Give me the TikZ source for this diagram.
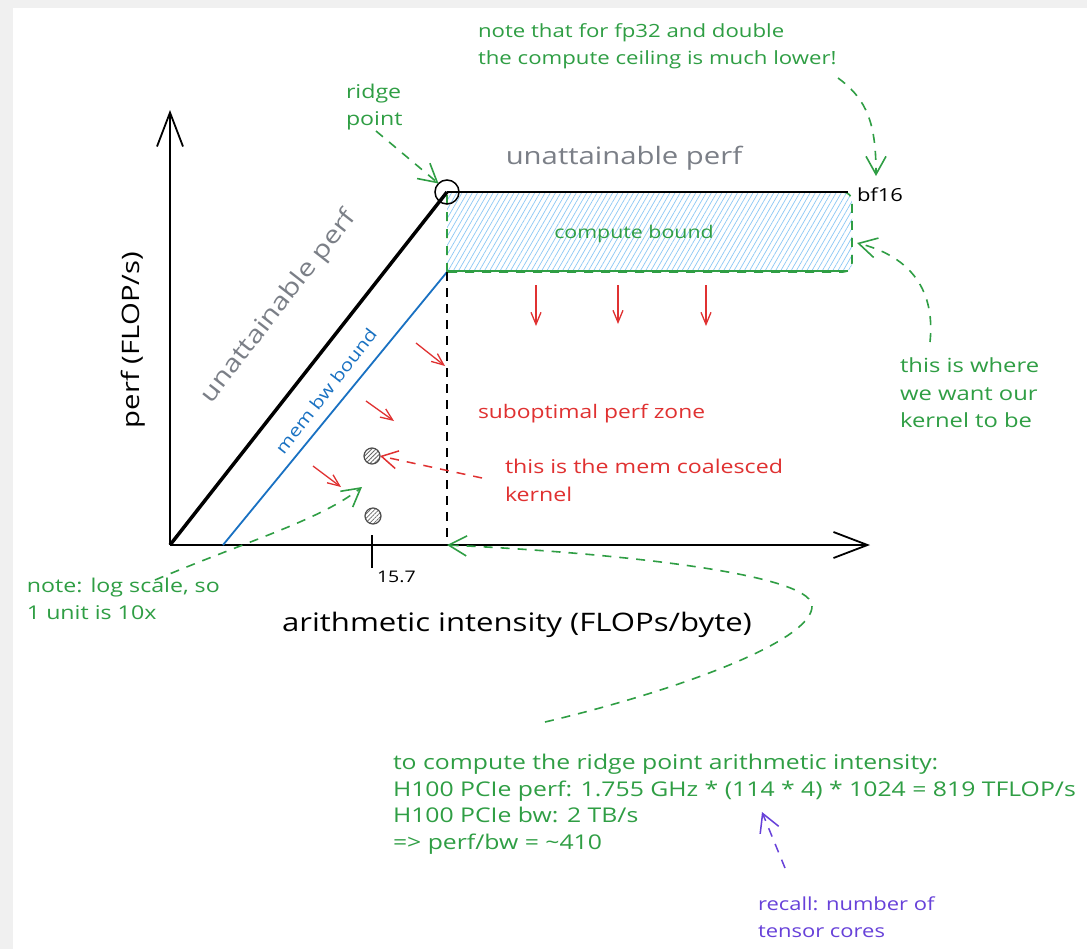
\documentclass[tikz,border=0pt]{standalone}
\usepackage{fontspec}
\setmainfont{Open Sans}[FakeStretch=1.22]
\usetikzlibrary{arrows.meta,patterns.meta}
\definecolor{exgreen}{HTML}{2F9E44}
\definecolor{exred}{HTML}{E03131}
\definecolor{exblue}{HTML}{1971C2}
\definecolor{exgray}{HTML}{7B7F87}
\definecolor{expurple}{HTML}{6741D9}
\definecolor{hatchblue}{HTML}{8CC8F5}
\definecolor{bggray}{HTML}{F0F0F0}
\newcommand{\fsz}[2]{\fontsize{#1}{#2}\selectfont}
\begin{document}
\begin{tikzpicture}[x=1pt,y=-1pt,
  every node/.style={inner sep=0pt,outer sep=0pt},
  axisline/.style={line width=1.8pt,black,-{Straight Barb[length=34pt,width=26pt,line width=1.8pt]}},
  gbarb/.style={-{Straight Barb[length=18pt,width=20pt,line width=1.6pt]}},
  rbarb/.style={-{Straight Barb[length=12pt,width=10pt,line width=1.3pt]}},
  exdash/.style={line width=1.6pt,dash pattern=on 9pt off 8pt},
  gtext/.style={text=exgreen,align=left,font=\fsz{19}{27}},
  rtext/.style={text=exred,align=left,font=\fsz{19}{28}},
  hatchdot/.style={draw=black!70,line width=1.2pt,pattern={Lines[angle=45,distance=3pt,line width=0.8pt]},pattern color=black!60}]
\useasboundingbox (0,0) rectangle (1087,948);
\fill[bggray] (-5,-5) rectangle (1100,960);
\fill[white] (13,8) rectangle (1100,960);

% key coordinates
\coordinate (origin) at (170,545);
\coordinate (ytip) at (170,110);
\coordinate (xtip) at (870,545);
\coordinate (ridge) at (447,192);
\coordinate (ceilend) at (848,192);
\coordinate (bwstart) at (223,545);
\coordinate (bwend) at (447,272);
\coordinate (ridgefoot) at (447,545);
\coordinate (tickA) at (372,535);
\coordinate (tickB) at (372,568);

% compute bound region
\path[pattern={Lines[angle=60,distance=4.5pt,line width=0.7pt]},pattern color=hatchblue]
  (447,272) -- (447,192) [rounded corners=9pt] -- (852,192) -- (852,272) [sharp corners] -- cycle;
\draw[exgreen,exdash] (447,272) -- (447,192) [rounded corners=9pt] -- (852,192) -- (852,272) [sharp corners] -- cycle;
\draw[exgreen,line width=2.4pt] (447,271) -- (848,271);
\node[text=exgreen,font=\fsz{17.5}{22}] (cb) at (634,234) {compute bound};

% axes
\draw[axisline] (origin) -- (ytip);
\draw[axisline] (origin) -- (xtip);
% roofline
\draw[line width=3.5pt,black] (origin) -- (ridge);
\draw[line width=2.6pt,black] (ridge) -- (ceilend);
\draw[line width=1.8pt,exblue] (bwstart) -- (bwend);
\draw[line width=1.5pt,black,dash pattern=on 9pt off 7pt] (bwend) -- (ridgefoot);
\node[draw=black,line width=1.5pt,circle,minimum size=24pt] (ridgec) at (ridge) {};
\draw[line width=1.5pt] (tickA) -- (tickB);

% labels
\node[anchor=west,font=\fsz{18}{22}] (bf) at (857,195) {bf16};
\node[text=exgray,font=\fsz{24}{28}] (ua1) at (624,158) {unattainable perf};
\node[text=exgray,font=\fsz{24}{28},rotate=52] (ua2) at (279,307) {unattainable perf};
\node[text=exblue,font=\fsz{17}{20},rotate=52] (mbw) at (326,391) {mem bw bound};
\node[font=\fsz{24}{28},rotate=90] (ylab) at (133,340) {perf (FLOP/s)};
\node[font=\fsz{25.5}{30}] (xlab) at (517,625) {arithmetic intensity (FLOPs/byte)};
\node[anchor=west,font=\fsz{16}{20}] (t157) at (377,577) {15.7};

% red arrows
\coordinate (d1a) at (536,285); \coordinate (d1b) at (536,326);
\coordinate (d2a) at (618,285); \coordinate (d2b) at (618,324);
\coordinate (d3a) at (706,285); \coordinate (d3b) at (706,326);
\draw[exred,line width=1.3pt,rbarb] (d1a) -- (d1b);
\draw[exred,line width=1.3pt,rbarb] (d2a) -- (d2b);
\draw[exred,line width=1.3pt,rbarb] (d3a) -- (d3b);
\coordinate (g1a) at (416,343); \coordinate (g1b) at (445,366);
\coordinate (g2a) at (366,401); \coordinate (g2b) at (394,421);
\coordinate (g3a) at (313,466); \coordinate (g3b) at (341,487);
\draw[exred,line width=1.3pt,rbarb] (g1a) -- (g1b);
\draw[exred,line width=1.3pt,rbarb] (g2a) -- (g2b);
\draw[exred,line width=1.3pt,rbarb] (g3a) -- (g3b);

% kernels
\node[hatchdot,circle,minimum size=16pt] (k1) at (372,456) {};
\node[hatchdot,circle,minimum size=16pt] (k2) at (373,516) {};

\node[rtext,anchor=west,font=\fsz{18.7}{28}] (sub) at (478,414) {suboptimal perf zone};
\node[rtext,anchor=north west] (coal) at (505,459) {this is the mem coalesced\\kernel};
\coordinate (coalarr) at (482,478);
\draw[exred,exdash,line width=1.5pt,-{Straight Barb[length=16pt,width=18pt,line width=1.5pt]}] (coalarr) -- (k1.east);

% notes
\node[gtext,anchor=north west,font=\fsz{18.2}{27}] (top) at (478,24) {note that for fp32 and double\\the compute ceiling is much lower!};
\coordinate (topA) at (838,78);
\coordinate (topB) at (876,176);
\draw[exgreen,exdash,gbarb] (topA) .. controls (868,100) and (876,125) .. (topB);

\node[gtext,anchor=north west] (ridgenote) at (346,84) {ridge\\point};
\coordinate (rnA) at (376,131);
\draw[exgreen,exdash,gbarb] (rnA) -- (ridgec.north west);

\node[gtext,anchor=north west,font=\fsz{19.5}{27.5}] (want) at (900,358) {this is where\\we want our\\kernel to be};
\coordinate (wA) at (930,342);
\coordinate (wB) at (857,243);
\draw[exgreen,exdash,gbarb] (wA) .. controls (936,285) and (905,255) .. (wB);

\node[gtext,anchor=north west,font=\fsz{19}{27}] (logn) at (27,578) {note: log scale, so\\1 unit is 10x};
\coordinate (lA) at (155,580);
\coordinate (lB) at (362,487);
\draw[exgreen,exdash,gbarb] (lA) .. controls (250,540) and (320,520) .. (lB);

\node[gtext,anchor=north west,font=\fsz{20.3}{26.7}] (calc) at (393,754) {to compute the ridge point arithmetic intensity:\\H100 PCIe perf: 1.755 GHz * (114 * 4) * 1024 = 819 TFLOP/s\\H100 PCIe bw: 2 TB/s\\=> perf/bw = \textasciitilde410};
\coordinate (cA) at (545,722);
\coordinate (cM) at (812,605);
\draw[exgreen,exdash,gbarb] (cA) .. controls (680,690) and (815,640) .. (cM) .. controls (808,572) and (600,552) .. (ridgefoot);

\node[text=expurple,align=left,font=\fsz{18}{27},anchor=north west] (recall) at (758,897) {recall: number of\\tensor cores};
\coordinate (pA) at (785,868);
\coordinate (pB) at (762,812);
\draw[expurple,exdash,line width=1.5pt,-{Straight Barb[length=18pt,width=20pt,line width=1.5pt]}] (pA) -- (pB);
\end{tikzpicture}
\end{document}
